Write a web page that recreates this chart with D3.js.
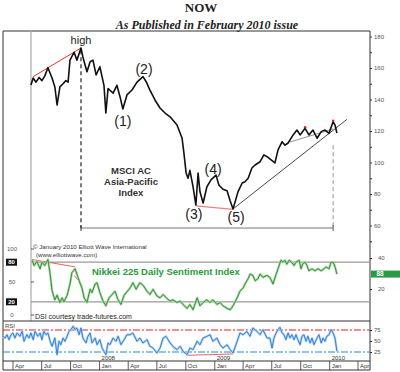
<!DOCTYPE html>
<html>
<head>
<meta charset="utf-8">
<script src="https://cdn.jsdelivr.net/npm/d3@7"></script>
<style>
  body { margin: 0; background: #fff; }
  svg { display: block; font-family: "Liberation Sans", Arial, sans-serif; }
</style>
</head>
<body>
<div id="chart"></div>
<script>
// MSCI AC Asia-Pacific index
const priceDates = [
  '2007-05-28','2007-06-04','2007-06-13','2007-06-23','2007-07-02','2007-07-11','2007-07-21','2007-08-03',
  '2007-08-12','2007-08-19','2007-08-28','2007-09-07','2007-09-16','2007-09-23','2007-09-29','2007-10-12',
  '2007-10-21','2007-11-03','2007-11-09','2007-11-22','2007-12-02','2007-12-11','2007-12-21',
  '2008-01-02','2008-01-15','2008-01-21','2008-01-28','2008-02-13','2008-02-25','2008-03-06','2008-03-15',
  '2008-03-28','2008-04-13','2008-04-29','2008-05-18','2008-05-28','2008-06-09','2008-06-25','2008-07-11',
  '2008-07-27','2008-08-12','2008-09-03','2008-09-19','2008-09-25','2008-10-02','2008-10-08','2008-10-14',
  '2008-10-24','2008-11-02','2008-11-09','2008-11-15','2008-11-25','2008-12-07','2008-12-20',
  '2009-01-05','2009-01-14','2009-01-27','2009-02-09','2009-02-19','2009-02-28','2009-03-16','2009-03-29',
  '2009-04-07','2009-04-17','2009-04-29','2009-05-09','2009-05-25','2009-06-06','2009-06-16','2009-06-29',
  '2009-07-11','2009-07-21','2009-08-03','2009-08-12','2009-08-22','2009-09-07','2009-09-19','2009-09-29',
  '2009-10-15','2009-10-27','2009-11-09','2009-11-22','2009-12-05','2009-12-17','2009-12-30',
  '2010-01-12','2010-01-18','2010-01-24'
];
const priceValues = [
  149.2,153.6,151,154,152,155,160.2,153.6,148,136.5,148,150,152,151,165,170,165,172.7,167,157.6,164,165,155.6,
  160.8,149,131.4,147,144,149,141.8,134,142.9,146,151,154.5,151.3,146,139.7,134.6,131.4,129,123.8,115.6,106,
  93.3,90,95,84.6,73,93.3,81.4,74.3,84.6,89,
  92,85.7,83,82,75.5,70.5,81.5,87,87.8,90,96.5,98.4,100.5,104.8,103.7,101.6,99.7,108,113.2,111,112.4,117.5,
  120.6,117.5,121.7,117.5,120.6,115.4,119.6,120.6,118.5,
  126,123.8,118.7
];

// Nikkei 225 Daily Sentiment Index
const dsiDates = [
  '2007-06-01','2007-06-07','2007-06-16','2007-06-26','2007-07-02','2007-07-11','2007-07-21','2007-07-28',
  '2007-08-03','2007-08-12','2007-08-19','2007-08-28','2007-09-04','2007-09-10','2007-09-20','2007-09-29',
  '2007-10-05','2007-10-15','2007-10-21','2007-10-28','2007-11-06','2007-11-13','2007-11-22','2007-12-02',
  '2007-12-08','2007-12-18','2007-12-24',
  '2008-01-02','2008-01-12','2008-01-21','2008-01-31','2008-02-10','2008-02-19','2008-02-29','2008-03-09',
  '2008-03-19','2008-04-07','2008-04-16','2008-04-26','2008-05-08','2008-05-18','2008-05-31','2008-06-09',
  '2008-06-19','2008-07-01','2008-07-11','2008-07-21','2008-08-02','2008-08-12','2008-08-21','2008-09-03',
  '2008-09-13','2008-09-22','2008-10-05','2008-10-14','2008-10-24','2008-11-06','2008-11-15','2008-11-25',
  '2008-12-07','2008-12-17','2008-12-26',
  '2009-01-08','2009-01-18','2009-01-27','2009-02-09','2009-02-19','2009-02-28','2009-03-13','2009-03-22',
  '2009-04-01','2009-04-07','2009-04-17','2009-04-23','2009-05-02','2009-05-09','2009-05-18','2009-05-25',
  '2009-06-03','2009-06-16','2009-06-25','2009-07-05','2009-07-15','2009-07-21','2009-07-30','2009-08-06',
  '2009-08-12','2009-08-18','2009-08-25','2009-08-31','2009-09-10','2009-09-16','2009-09-26','2009-10-02',
  '2009-10-08','2009-10-15','2009-10-21','2009-10-27','2009-11-06','2009-11-15','2009-11-25','2009-12-05',
  '2009-12-14','2009-12-20','2009-12-30',
  '2010-01-05','2010-01-12','2010-01-18','2010-01-24'
];
const dsiValues = [
  83,75,81,70,80,75,84,62,37,23,30,19,26,20,30,47,64,70,62,52,41,26,19,39,34,47,49,
  34,21,14,26,31,36,23,16,30,41,49,39,49,45,36,31,39,29,26,31,25,21,23,19,21,16,10,16,8,26,14,19,23,19,23,
  16,19,14,10,8,14,26,36,41,47,55,62,60,52,55,62,57,60,57,47,62,70,83,80,83,77,83,81,75,80,83,70,78,80,75,
  67,70,67,70,67,70,73,70,
  80,80,73,62
];

// RSI of the index
const rsiDates = [
  '2007-02-28','2007-03-07','2007-03-13','2007-03-19','2007-03-26','2007-04-01','2007-04-07','2007-04-14',
  '2007-04-23','2007-04-30','2007-05-06','2007-05-15','2007-05-22','2007-05-28','2007-06-04','2007-06-10',
  '2007-06-19','2007-06-26','2007-07-02','2007-07-08','2007-07-15','2007-07-21','2007-07-28','2007-08-03',
  '2007-08-12','2007-08-19','2007-08-25','2007-08-31','2007-09-07','2007-09-13','2007-09-20','2007-09-26',
  '2007-10-02','2007-10-09','2007-10-15','2007-10-21','2007-10-28','2007-11-03','2007-11-09','2007-11-19',
  '2007-11-25','2007-12-02','2007-12-08','2007-12-18','2007-12-24',
  '2008-01-02','2008-01-09','2008-01-15','2008-01-21','2008-01-28','2008-02-03','2008-02-13','2008-02-22',
  '2008-02-29','2008-03-09','2008-03-19','2008-03-28','2008-04-07','2008-04-16','2008-04-29','2008-05-08',
  '2008-05-18','2008-05-31','2008-06-09','2008-06-19','2008-07-01','2008-07-11','2008-07-21','2008-07-30',
  '2008-08-12','2008-08-21','2008-09-03','2008-09-13','2008-09-22','2008-10-05','2008-10-14','2008-10-24',
  '2008-11-06','2008-11-15','2008-11-25','2008-12-07','2008-12-17','2008-12-26',
  '2009-01-08','2009-01-18','2009-01-27','2009-02-09','2009-02-19','2009-02-28','2009-03-13','2009-03-22',
  '2009-04-01','2009-04-13','2009-04-23','2009-05-02','2009-05-15','2009-05-25','2009-06-03','2009-06-16',
  '2009-06-25','2009-07-02','2009-07-08','2009-07-15','2009-07-21','2009-07-27','2009-08-03','2009-08-09',
  '2009-08-15','2009-08-22','2009-08-28','2009-09-03','2009-09-10','2009-09-16','2009-09-22','2009-09-29',
  '2009-10-05','2009-10-11','2009-10-18','2009-10-24','2009-10-31','2009-11-06','2009-11-12','2009-11-22',
  '2009-11-28','2009-12-05','2009-12-11','2009-12-17','2009-12-23','2009-12-30',
  '2010-01-05','2010-01-12','2010-01-18','2010-01-24'
];
const rsiValues = [
  60.7,56.8,64.3,53,64.3,68.2,56.8,68.2,60.7,72,49.3,64.3,56.8,68.2,53,72,60.7,68.2,53,72,64.3,68.2,49.3,
  38,56.8,18.9,49.3,41.6,56.8,49.3,60.7,72,75.7,83.4,75.7,79.5,64.3,79.5,56.8,45.5,60.7,68.2,45.5,56.8,41.6,
  53,34,26.6,18.9,45.5,41.6,56.8,49.3,60.7,41.6,53,64.3,64.3,68.2,49.3,56.8,45.5,53,38,34,22.7,34,56.8,60.7,
  45.5,38,30.2,38,26.6,18.9,34,30.2,49.3,41.6,56.8,60.7,64.3,49.3,
  56.8,41.6,34,41.6,30.2,22.7,49.3,68.2,64.3,72,60.7,79.5,72,64.3,75.7,56.8,56.8,34,56.8,68.2,75.7,81.1,
  68.2,64.3,53,68.2,56.8,64.3,53,64.3,53,41.6,60.7,64.3,49.3,60.7,45.5,56.8,41.6,56.8,64.3,45.5,56.8,49.3,
  60.7,64.3,
  75.7,68.2,56.8,26.6
];

// axis labels
const priceTicks = [60, 80, 100, 120, 140, 160, 180];
const dsiLeftTicks = [100, 50, 0];
const dsiBoxTicks = [80, 20];
const dsiRightTicks = [40, 20];
const rsiTicks = [75, 50, 25];
const quarterLabels = ['Apr', 'Jul', 'Oct', 'Jan', 'Apr', 'Jul', 'Oct', 'Jan', 'Apr', 'Jul', 'Oct', 'Jan', 'Apr'];
const yearLabels = ['2008', '2009', '2010'];

// wave annotations
const waveLabels = ['(1)', '(2)', '(3)', '(4)', '(5)'];
const waveDates = ['2008-03-15', '2008-05-18', '2008-11-02', '2009-01-05', '2009-02-28'];
const waveValues = [134, 154.5, 73, 92, 70.5];
const highDate = '2007-11-03';
const highValue = 172.7;
const lastHighDate = '2010-01-12';

const width = 400, height = 372;
const frameLeft = 3, plotLeft = 31, frameRight = 370, frameTop = 31, dsiBottom = 321, axisTop = 361, frameBottom = 370;

const parse = d3.timeParse('%Y-%m-%d');
const toSeries = (dates, values) => dates.map((d, i) => ({ date: parse(d), value: values[i] }));

const svg = d3.select('#chart').append('svg').attr('width', width).attr('height', height);

const x = d3.scaleTime()
  .domain([parse('2007-04-01'), parse('2010-04-01')])
  .range([13, 358]);
const priceY = d3.scaleLinear().domain([60, 180]).range([225.5, 36.5]);
const dsiY = d3.scaleLinear().domain([0, 100]).range([315, 249]);
const dsiRightY = d3.scaleLinear().domain([20, 40]).range([289, 258]);
const rsiY = d3.scaleLinear().domain([25, 75]).range([352, 330]);

function hline(y, x1, x2, color, w, dash) {
  svg.append('line').attr('x1', x1).attr('x2', x2).attr('y1', y).attr('y2', y)
    .attr('stroke', color).attr('stroke-width', w).attr('stroke-dasharray', dash || null);
}
function vline(xp, y1, y2, color, w, dash) {
  svg.append('line').attr('x1', xp).attr('x2', xp).attr('y1', y1).attr('y2', y2)
    .attr('stroke', color).attr('stroke-width', w).attr('stroke-dasharray', dash || null);
}
function segment(p1, p2, yScale, color, w) {
  svg.append('line')
    .attr('x1', x(parse(p1[0]))).attr('y1', yScale(p1[1]))
    .attr('x2', x(parse(p2[0]))).attr('y2', yScale(p2[1]))
    .attr('stroke', color).attr('stroke-width', w);
}

function drawTitles() {
  svg.append('text').attr('x', 201).attr('y', 12).attr('text-anchor', 'middle')
    .style('font-family', '"Liberation Serif", "Times New Roman", serif')
    .style('font-weight', 'bold').style('font-size', '13px').attr('fill', '#222')
    .text('NOW');
  svg.append('text').attr('x', 207).attr('y', 29).attr('text-anchor', 'middle')
    .style('font-family', '"Liberation Serif", "Times New Roman", serif')
    .style('font-weight', 'bold').style('font-style', 'italic').style('font-size', '12px').attr('fill', '#222')
    .text('As Published in February 2010 issue');
}

function drawFrame() {
  vline(frameLeft, frameTop, frameBottom, '#333', 1);
  hline(frameTop, frameLeft, frameRight, '#333', 1);
  vline(frameRight, frameTop, frameBottom, '#333', 1);
  hline(frameBottom, frameLeft, frameRight, '#333', 1);
  vline(plotLeft, frameTop, dsiBottom, '#aaa', 1.2);
  hline(dsiBottom, frameLeft, frameRight, '#333', 1);
  hline(axisTop, frameLeft, frameRight, '#333', 1);
}

function styleAxis(g) {
  g.select('.domain').remove();
  g.selectAll('.tick line').attr('stroke', '#333');
  g.selectAll('.tick text').attr('fill', '#555').style('font-size', '6px');
}

function drawPricePanel() {
  // right axis with minor ticks
  svg.append('g').attr('transform', `translate(${frameRight},0)`)
    .call(d3.axisRight(priceY).tickValues(d3.range(50, 180, 20)).tickSize(2).tickFormat(''))
    .call(styleAxis);
  svg.append('g').attr('transform', `translate(${frameRight},0)`)
    .call(d3.axisRight(priceY).tickValues(priceTicks).tickSize(2).tickPadding(2))
    .call(styleAxis);

  // measuring bracket from the high to the latest high
  const bracketY = priceY(58.4);
  const xHigh = x(parse(highDate)), xLast = x(parse(lastHighDate));
  vline(xHigh, priceY(171.2), bracketY, '#111', 1.1, '4,3');
  vline(xLast, priceY(111), bracketY, '#888', 0.9, '4,3');
  hline(bracketY, xHigh, xLast, '#777', 1);
  vline(xHigh, bracketY - 3, bracketY + 3, '#333', 1);
  vline(xLast, bracketY - 3, bracketY + 3, '#555', 1);

  // trend lines
  segment(['2007-06-04', 154.5], [highDate, highValue], priceY, '#e8302c', 1);
  segment(['2008-11-02', 72.4], ['2009-02-28', 70.3], priceY, '#f08080', 1.2);
  segment(['2009-02-28', 70.5], ['2010-02-25', 127.4], priceY, '#333', 0.9);
  segment(['2009-08-28', 113], ['2010-01-12', 121.3], priceY, '#777', 0.8);

  const line = d3.line().x(d => x(d.date)).y(d => priceY(d.value));
  svg.append('path').datum(toSeries(priceDates, priceValues))
    .attr('fill', 'none').attr('stroke', '#111').attr('stroke-width', 1.6)
    .attr('stroke-linejoin', 'round').attr('d', line);

  svg.selectAll('.redDot').data([['2009-10-15', 122.4], ['2010-01-12', 126.5]]).enter()
    .append('circle').attr('class', 'redDot')
    .attr('cx', d => x(parse(d[0]))).attr('cy', d => priceY(d[1])).attr('r', 1.2)
    .attr('fill', '#d62020');

  // labels
  svg.append('text').attr('x', xHigh).attr('y', priceY(highValue) - 4).attr('text-anchor', 'middle')
    .style('font-size', '11px').attr('fill', '#222').text('high');

  const waveOffsets = [[0, 17.5], [1, -3], [-2, 13.6], [-3, -1.6], [3, 13.5]];
  svg.selectAll('.wave').data(waveLabels).enter().append('text').attr('class', 'wave')
    .attr('x', (d, i) => x(parse(waveDates[i])) + waveOffsets[i][0])
    .attr('y', (d, i) => priceY(waveValues[i]) + waveOffsets[i][1])
    .attr('text-anchor', 'middle').style('font-size', '14px').attr('fill', '#222')
    .text(d => d);

  const nameLines = ['MSCI AC', 'Asia-Pacific', 'Index'];
  svg.selectAll('.name').data(nameLines).enter().append('text').attr('class', 'name')
    .attr('x', 131).attr('y', (d, i) => 173.5 + i * 11.2)
    .attr('text-anchor', 'middle').style('font-size', '9.5px').style('font-weight', 'bold')
    .attr('fill', '#333').text(d => d);

  svg.append('text').attr('x', 33).attr('y', 248.5).style('font-size', '6.2px').attr('fill', '#333')
    .text('\u00a9 January 2010 Elliott Wave International');
  svg.append('text').attr('x', 36).attr('y', 257).style('font-size', '6.2px').attr('fill', '#333')
    .text('(www.elliottwave.com)');
}

function drawDsiPanel() {
  dsiBoxTicks.forEach(v => hline(dsiY(v), plotLeft, frameRight, '#999', 1.2));

  // left labels
  svg.selectAll('.dsiL').data(dsiLeftTicks).enter().append('text').attr('class', 'dsiL')
    .attr('x', 12).attr('y', d => dsiY(d) + 2).attr('text-anchor', 'middle')
    .style('font-size', '6px').attr('fill', '#555').text(d => d);
  dsiLeftTicks.forEach(v => hline(dsiY(v), plotLeft, plotLeft + 3, '#333', 0.8));
  const boxes = svg.selectAll('.dsiBox').data(dsiBoxTicks).enter().append('g').attr('class', 'dsiBox')
    .attr('transform', d => `translate(6,${dsiY(d) - 3.5})`);
  boxes.append('rect').attr('width', 11).attr('height', 7).attr('fill', '#111');
  boxes.append('text').attr('x', 5.5).attr('y', 5.5).attr('text-anchor', 'middle')
    .style('font-size', '6px').style('font-weight', 'bold').attr('fill', '#fff').text(d => d);

  // right labels
  svg.append('g').attr('transform', `translate(${frameRight},0)`)
    .call(d3.axisRight(dsiRightY).tickValues(dsiRightTicks).tickSize(2).tickPadding(6))
    .call(styleAxis);

  segment(['2007-06-01', 84], ['2007-10-15', 73], dsiY, '#e8504a', 0.9);
  segment(['2007-10-12', 60], ['2007-11-03', 48], dsiY, '#e8504a', 0.9);

  const series = toSeries(dsiDates, dsiValues);
  const line = d3.line().x(d => x(d.date)).y(d => dsiY(d.value));
  svg.append('path').datum(series).attr('fill', 'none').attr('stroke', '#a9d9a9')
    .attr('stroke-width', 2.4).attr('stroke-linejoin', 'round').attr('d', line);
  svg.append('path').datum(series).attr('fill', 'none').attr('stroke', '#2c8a2c')
    .attr('stroke-width', 0.9).attr('stroke-linejoin', 'round').attr('d', line);

  const last = series[series.length - 1];
  const box = svg.append('g').attr('transform', `translate(${frameRight + 1},${dsiY(last.value) - 3.5})`);
  box.append('rect').attr('width', 29).attr('height', 7).attr('fill', '#2a9a48');
  box.append('text').attr('x', 9).attr('y', 5.6).attr('text-anchor', 'middle')
    .style('font-size', '6.5px').style('font-weight', 'bold').attr('fill', '#fff').text('88');

  svg.append('text').attr('x', 92).attr('y', 274.5).style('font-size', '9.5px').style('font-weight', 'bold')
    .attr('fill', '#2a9a3a').text('Nikkei 225 Daily Sentiment Index');
  svg.append('text').attr('x', 35).attr('y', 319).style('font-size', '7px').attr('fill', '#222')
    .text('DSI courtesy trade-futures.com');
}

function drawRsiPanel() {
  svg.append('text').attr('x', 5).attr('y', 328).style('font-size', '6px').attr('fill', '#444').text('RSI');
  hline(rsiY(75), frameLeft, frameRight, '#e02020', 1, '7,2,2,2');
  hline(rsiY(25), frameLeft, frameRight, '#1a8ee0', 1.2, '7,2,2,2');

  svg.append('g').attr('transform', `translate(${frameRight},0)`)
    .call(d3.axisRight(rsiY).tickValues(rsiTicks).tickSize(2).tickPadding(2))
    .call(styleAxis);

  segment(['2007-10-09', 83.4], ['2007-11-03', 72], rsiY, '#e8504a', 0.9);
  segment(['2008-10-05', 17.5], ['2009-02-28', 20.5], rsiY, '#e8504a', 0.9);

  const series = toSeries(rsiDates, rsiValues);
  const line = d3.line().x(d => x(d.date)).y(d => rsiY(d.value));
  svg.append('path').datum(series).attr('fill', 'none').attr('stroke', '#b3d3f3')
    .attr('stroke-width', 2.4).attr('stroke-linejoin', 'round').attr('d', line);
  svg.append('path').datum(series).attr('fill', 'none').attr('stroke', '#2b78d2')
    .attr('stroke-width', 0.9).attr('stroke-linejoin', 'round').attr('d', line);
}

function drawTimeAxis() {
  const quarters = d3.timeMonth.every(3).range(parse('2007-04-01'), parse('2010-04-02'));
  quarters.forEach((d, i) => {
    vline(x(d), axisTop, frameBottom, '#333', 0.8);
    svg.append('text').attr('x', x(d) + 2).attr('y', 368).style('font-size', '6px')
      .attr('fill', '#333').text(quarterLabels[i]);
  });
  yearLabels.forEach(yr => {
    svg.append('text').attr('x', x(parse(yr + '-01-01')) + 2).attr('y', 360)
      .style('font-size', '6px').attr('fill', '#333').text(yr);
  });
}

drawTitles();
drawFrame();
drawPricePanel();
drawDsiPanel();
drawRsiPanel();
drawTimeAxis();
</script>
</body>
</html>
